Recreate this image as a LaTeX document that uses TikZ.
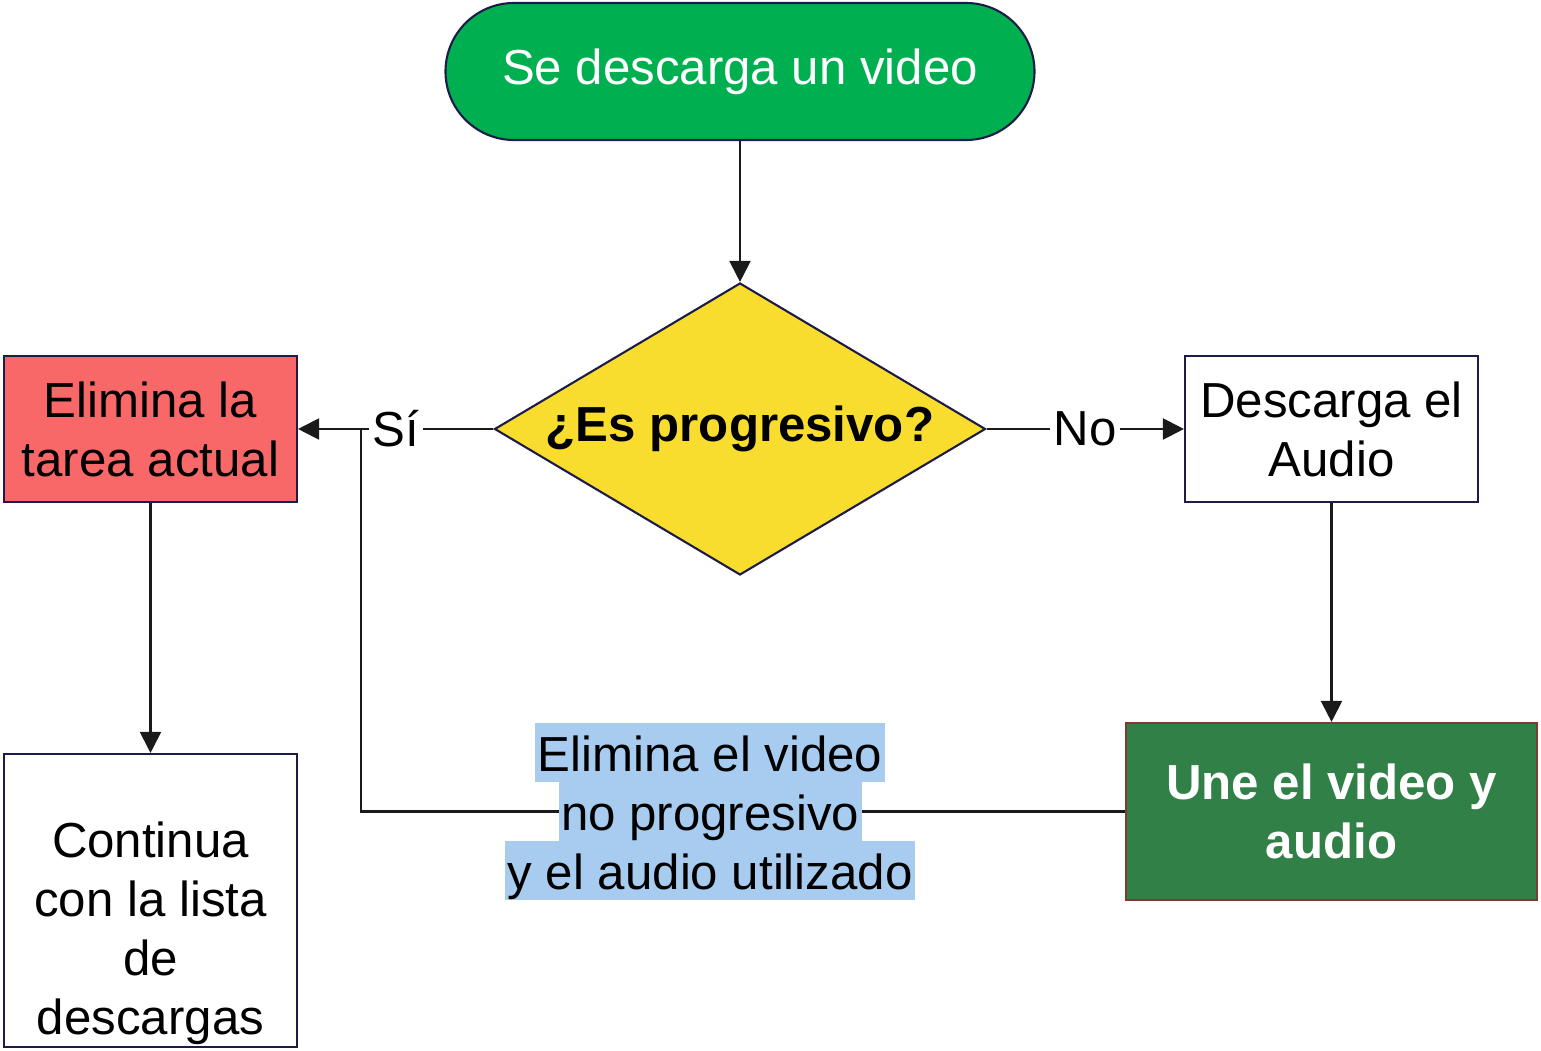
\documentclass[tikz,border=0pt]{standalone}
\usepackage{fontspec}
\setmainfont{Liberation Sans}
\usetikzlibrary{arrows.meta,shapes.geometric}
\definecolor{startGreen}{HTML}{00B050}
\definecolor{decYellow}{HTML}{F9DD2E}
\definecolor{removeRed}{HTML}{F96868}
\definecolor{joinGreen}{HTML}{318048}
\definecolor{joinBrown}{HTML}{7F3B30}
\definecolor{navyLine}{HTML}{1C1C48}
\definecolor{hlBlue}{HTML}{A8CBF0}
\definecolor{arrowBlack}{HTML}{1A1A1A}
\newcommand{\baseFont}{\fontsize{14}{16.8}\selectfont}
\newcommand{\hlLine}[1]{{\setlength{\fboxsep}{0pt}%
  \colorbox{hlBlue}{\rule[-3.1pt]{0pt}{16.8pt}\kern0.7pt#1\kern0.7pt}}}
\tikzset{%
  >={Triangle[width=6pt,length=6pt]},
  % Specifications for style of nodes:
          base/.style = {rectangle, draw=navyLine, line width=0.6pt,
                         minimum width=2.93cm, minimum height=1.46cm,
                         inner sep=0pt, text centered, align=center,
                         font=\baseFont},
      terminal/.style = {base, rounded corners=0.685cm, fill=startGreen,
                         minimum width=5.89cm, minimum height=1.37cm,
                         text=white},
      decision/.style = {diamond, draw=navyLine, line width=0.6pt,
                         fill=decYellow, shape aspect=1.68, inner sep=0pt,
                         minimum width=4.91cm, minimum height=2.92cm,
                         font=\baseFont\bfseries},
       removal/.style = {base, fill=removeRed},
       process/.style = {base, fill=white},
     mergeStep/.style = {base, fill=joinGreen, draw=joinBrown,
                         minimum width=4.11cm, minimum height=1.77cm,
                         text=white, font=\baseFont\bfseries},
       listBox/.style = {base, fill=white, minimum height=2.93cm},
     edgeLabel/.style = {fill=white, inner sep=1pt, font=\baseFont},
       hlLabel/.style = {inner sep=0pt, align=center, font=\baseFont},
}

\begin{document}
\begin{tikzpicture}[node distance=1.5cm, line width=0.6pt, draw=arrowBlack]
  \useasboundingbox (0,0) rectangle (15.41,10.5);

  % Specification of nodes (position, etc.)
  \node (start)    [terminal] at (7.40,9.785) {Se descarga un video};
  \node (progCheck) [decision, below of=start, yshift=-2.075cm] {¿Es progresivo?};
  \node (removeTask) [removal, left of=progCheck, xshift=-4.395cm] {Elimina la\\tarea actual};
  \node (getAudio) [process, right of=progCheck, xshift=4.415cm] {Descarga el\\Audio};
  \node (joinMedia) [mergeStep, below of=getAudio, yshift=-2.325cm] {Une el video y\\audio};
  \node (nextList) [listBox, below of=removeTask, yshift=-3.215cm] {};
  \node (nextText) [hlLabel] at ([yshift=-0.33cm]nextList.center)
    {Continua\\con la lista\\de\\descargas};
  \coordinate (mergePoint) at ([xshift=0.63cm]removeTask.east);

  % Specification of lines between nodes specified above
  \draw[->]      (start) -- (progCheck);
  \draw[->]  (progCheck) -- node (yesLabel) [edgeLabel] {Sí} (removeTask);
  \draw[->]  (progCheck) -- node (noLabel) [edgeLabel] {No} (getAudio);
  \draw[->]   (getAudio) -- (joinMedia);
  \draw[->] (removeTask) -- (nextList);
  \draw      (joinMedia) -- node (cleanLabel) [hlLabel, pos=0.543]
    {\hlLine{Elimina el video}\\\hlLine{no progresivo}\\\hlLine{y el audio utilizado}}
    (joinMedia.west -| mergePoint) -- (mergePoint);
\end{tikzpicture}
\end{document}
